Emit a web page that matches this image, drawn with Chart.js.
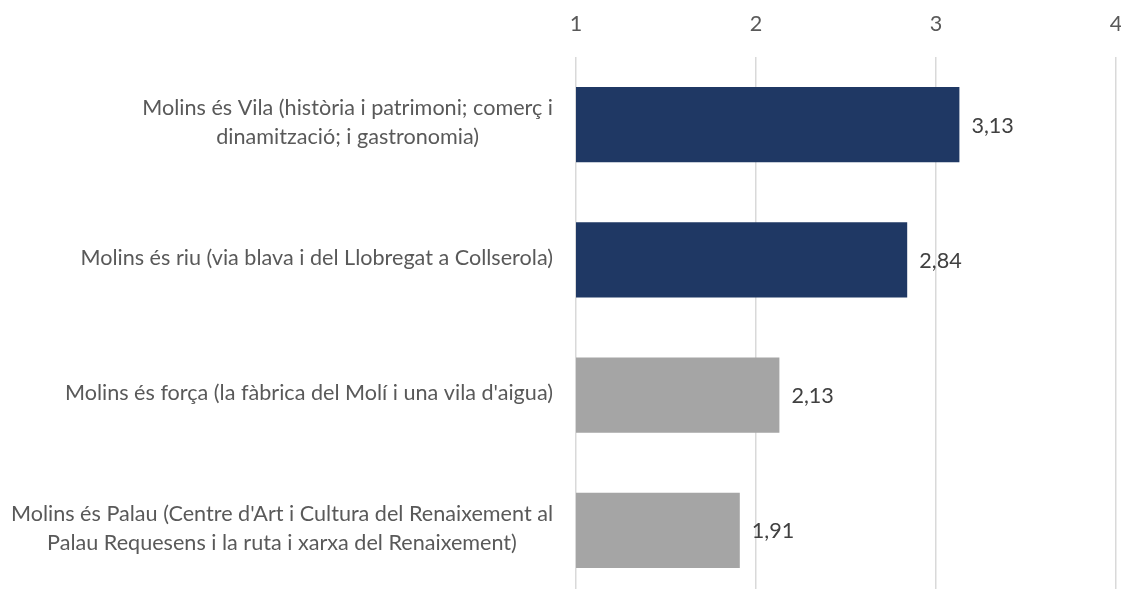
<!DOCTYPE html>
<html>
<head>
<meta charset="utf-8">
<script src="https://cdn.jsdelivr.net/npm/chart.js@4/dist/chart.umd.min.js"></script>
<style>
  html, body { margin: 0; padding: 0; background: #fff; overflow: hidden; }
  #wrap { width: 1121px; height: 598px; }
</style>
</head>
<body>
<div id="wrap"><canvas id="chart" width="1121" height="598"></canvas></div>
<script>
  // categories (each one is a list of lines, as in the original)
  const categories = [
    ["Molins és Vila (història i patrimoni; comerç i", "dinamització; i gastronomia)"],
    ["Molins és riu (via blava i del Llobregat a Collserola)"],
    ["Molins és força (la fàbrica del Molí i una vila d'aigua)"],
    ["Molins és Palau (Centre d'Art i Cultura del Renaixement al", "Palau Requesens i la ruta i xarxa del Renaixement)"]
  ];
  const values = [3.13, 2.84, 2.13, 1.91];
  const barColors = ["#1F3864", "#1F3864", "#A5A5A5", "#A5A5A5"];
  const axisMin = 1;
  const axisMax = 4;

  const FONT = "Lato, 'Open Sans', sans-serif";
  const FONT_SIZE = 21.6;

  // y labels: block right-aligned to the axis, lines centred inside the block
  const categoryLabels = {
    id: "categoryLabels",
    afterDraw(chart) {
      const ctx = chart.ctx;
      const y = chart.scales.y;
      const right = chart.chartArea.left - 23;
      const lineH = 29;
      ctx.save();
      ctx.font = FONT_SIZE + "px " + FONT;
      ctx.fillStyle = "#595959";
      ctx.textAlign = "center";
      ctx.textBaseline = "middle";
      categories.forEach((lines, i) => {
        const cy = y.getPixelForValue(i) - 2;
        const widest = Math.max(...lines.map(l => ctx.measureText(l).width));
        const cx = right - widest / 2;
        const top = cy - (lines.length - 1) * lineH / 2;
        lines.forEach((l, j) => ctx.fillText(l, cx, top + j * lineH));
      });
      ctx.restore();
    }
  };

  // value labels after the bars, decimal comma
  const valueLabels = {
    id: "valueLabels",
    afterDatasetsDraw(chart) {
      const ctx = chart.ctx;
      const meta = chart.getDatasetMeta(0);
      ctx.save();
      ctx.font = FONT_SIZE + "px " + FONT;
      ctx.fillStyle = "#404040";
      ctx.textAlign = "left";
      ctx.textBaseline = "middle";
      meta.data.forEach((bar, i) => {
        ctx.fillText(values[i].toFixed(2).replace(".", ","), bar.x + 12, bar.y + 1);
      });
      ctx.restore();
    }
  };

  new Chart(document.getElementById("chart").getContext("2d"), {
    type: "bar",
    data: {
      labels: categories,
      datasets: [{
        data: values,
        backgroundColor: barColors,
        borderWidth: 0,
        categoryPercentage: 1,
        barPercentage: 0.555
      }]
    },
    options: {
      indexAxis: "y",
      responsive: false,
      animation: false,
      layout: { padding: { top: 0, right: 5, bottom: 0, left: 0 } },
      plugins: {
        legend: { display: false },
        tooltip: { enabled: false }
      },
      scales: {
        x: {
          position: "top",
          min: axisMin,
          max: axisMax,
          ticks: {
            stepSize: 1,
            color: "#595959",
            font: { family: FONT, size: FONT_SIZE },
            padding: 20
          },
          grid: { color: "#D9D9D9", lineWidth: 1.5, drawTicks: false },
          border: { display: false },
          afterFit(scale) {
            scale.height = 57;
            scale.paddingLeft = 0;
            scale.paddingRight = 0;
          }
        },
        y: {
          ticks: { display: false },
          grid: { display: false },
          border: { display: false },
          afterFit(scale) { scale.width = 576; }
        }
      }
    },
    plugins: [categoryLabels, valueLabels]
  });
</script>
</body>
</html>
